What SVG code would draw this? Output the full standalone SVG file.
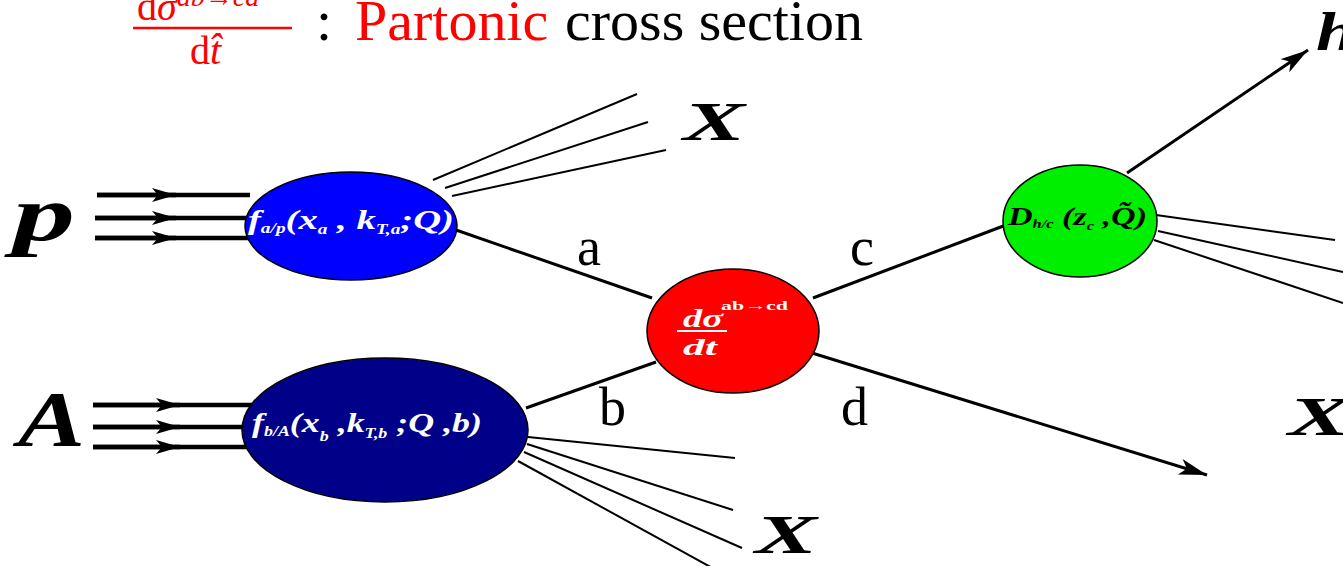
<svg xmlns="http://www.w3.org/2000/svg" width="1343" height="566" viewBox="0 0 1343 566">
<style>
.serif{font-family:"Liberation Serif","DejaVu Serif",serif}
.big{font-family:"Liberation Serif",serif;font-weight:bold;font-style:italic;fill:#000}
.lbl{font-family:"Liberation Serif",serif;font-size:54px;fill:#000}
.wt{font-family:"Liberation Serif",serif;font-weight:bold;font-style:italic;fill:#fff}
.bt{font-family:"Liberation Serif",serif;font-weight:bold;font-style:italic;fill:#000}
.prop{stroke:#000;stroke-width:3;fill:none}
.jet{stroke:#000;stroke-width:2;fill:none}
.beam{stroke:#000;stroke-width:4.5;fill:none}
.node{stroke:#000;stroke-width:1.5}
</style>
<defs>
<marker id="mid" markerUnits="userSpaceOnUse" markerWidth="30" markerHeight="20" refX="26" refY="8" orient="auto">
<path d="M26,8 L2,1 L8,8 L2,15 Z" fill="#000"/>
</marker>
<marker id="tip" markerUnits="userSpaceOnUse" markerWidth="32" markerHeight="20" refX="28" refY="8" orient="auto">
<path d="M28,8 L0,0 L7,8 L0,16 Z" fill="#000"/>
</marker>
</defs>
<rect width="1343" height="566" fill="#fff"/>

<g id="title">
<text class="serif" x="137" y="20" font-size="40" fill="#f00">d<tspan font-style="italic">σ</tspan><tspan font-size="28" font-style="italic" dy="-14">ab→cd</tspan></text>
<line x1="133" y1="28" x2="292" y2="28" stroke="#f00" stroke-width="2.5"/>
<text class="serif" x="190" y="64" font-size="40" fill="#f00">d<tspan font-style="italic">t̂</tspan></text>
<text class="serif" x="316" y="40" font-size="58" fill="#000">:</text>
<text class="serif" x="355" y="40" font-size="58" fill="#f00">Partonic</text>
<text class="serif" x="565" y="40" font-size="58" fill="#000">cross section</text>
</g>

<g id="connectors">
<line class="beam" x1="97" y1="195" x2="250" y2="195"/>
<line class="beam" x1="95" y1="218" x2="247" y2="218"/>
<line class="beam" x1="95" y1="238" x2="250" y2="238"/>
<line class="beam" x1="97" y1="195" x2="176" y2="195" marker-end="url(#mid)"/>
<line class="beam" x1="95" y1="218" x2="176" y2="218" marker-end="url(#mid)"/>
<line class="beam" x1="95" y1="238" x2="176" y2="238" marker-end="url(#mid)"/>
<line class="beam" x1="93" y1="405" x2="254" y2="405"/>
<line class="beam" x1="93" y1="427" x2="244" y2="427"/>
<line class="beam" x1="93" y1="447" x2="250" y2="447"/>
<line class="beam" x1="93" y1="405" x2="180" y2="405" marker-end="url(#mid)"/>
<line class="beam" x1="93" y1="427" x2="180" y2="427" marker-end="url(#mid)"/>
<line class="beam" x1="93" y1="447" x2="180" y2="447" marker-end="url(#mid)"/>

<line class="jet" x1="433" y1="180" x2="637" y2="94"/>
<line class="jet" x1="445" y1="188" x2="648" y2="122"/>
<line class="jet" x1="452" y1="196" x2="666" y2="150"/>

<line class="jet" x1="528" y1="437" x2="735" y2="458"/>
<line class="jet" x1="527" y1="444" x2="733" y2="510"/>
<line class="jet" x1="524" y1="452" x2="742" y2="548"/>
<line class="jet" x1="518" y1="461" x2="716" y2="570"/>

<line class="jet" x1="1156" y1="215" x2="1335" y2="240"/>
<line class="jet" x1="1158" y1="231" x2="1343" y2="272"/>
<line class="jet" x1="1154" y1="240" x2="1343" y2="303"/>

<line class="prop" x1="456" y1="230" x2="652" y2="298"/>
<line class="prop" x1="526" y1="408" x2="656" y2="362"/>
<line class="prop" x1="813" y1="298" x2="1006" y2="225"/>
<line class="prop" x1="812" y1="353" x2="1207" y2="475" marker-end="url(#tip)"/>
<line class="prop" x1="1127" y1="173" x2="1308" y2="50" marker-end="url(#tip)"/>
</g>

<g id="node-p">
<ellipse class="node" cx="351" cy="226" rx="106" ry="54" fill="#0000ff"/>
<text class="wt" x="248" y="229" font-size="28" textLength="206" lengthAdjust="spacingAndGlyphs">f<tspan font-size="14" dy="4">a/p</tspan><tspan dy="-4">(x</tspan><tspan font-size="14" dy="5">a</tspan><tspan dy="-5"> , k</tspan><tspan font-size="14" dy="5">T,a</tspan><tspan dy="-5">;Q)</tspan></text>
</g>

<g id="node-A">
<ellipse class="node" cx="385" cy="430" rx="143" ry="72" fill="#000088"/>
<text class="wt" x="252" y="432" font-size="28" textLength="230" lengthAdjust="spacingAndGlyphs">f<tspan font-size="14" dy="4">b/A</tspan><tspan dy="-4">(x</tspan><tspan font-size="14" dy="9">b</tspan><tspan dy="-9"> ,k</tspan><tspan font-size="14" dy="6">T,b</tspan><tspan dy="-6"> ;Q ,b)</tspan></text>
</g>

<g id="node-sigma">
<ellipse class="node" cx="733" cy="331" rx="86" ry="62" fill="#ff0000"/>
<text class="wt" x="683" y="327" font-size="25" textLength="40" lengthAdjust="spacingAndGlyphs">dσ</text>
<line x1="677" y1="331" x2="727" y2="331" stroke="#fff" stroke-width="2"/>
<text class="wt" x="683" y="355" font-size="24" textLength="34" lengthAdjust="spacingAndGlyphs">dt</text>
<text class="wt" x="721" y="310" font-size="13" style="font-style:normal" textLength="67" lengthAdjust="spacingAndGlyphs">ab→cd</text>
</g>

<g id="node-D">
<ellipse class="node" cx="1080" cy="221" rx="77" ry="56" fill="#00ee00"/>
<text class="bt" x="1008" y="225" font-size="25" textLength="139" lengthAdjust="spacingAndGlyphs">D<tspan font-size="12" dy="3">h/c</tspan><tspan dy="-3"> (z</tspan><tspan font-size="12" dy="5">c</tspan><tspan dy="-5"> ,Q̃)</tspan></text>
</g>

<g id="labels">
<text class="big" x="13" y="240" font-size="78" textLength="62" lengthAdjust="spacingAndGlyphs">p</text>
<text class="big" x="18" y="445" font-size="78" textLength="67" lengthAdjust="spacingAndGlyphs">A</text>
<text class="big" x="683" y="140" font-size="54" textLength="62" lengthAdjust="spacingAndGlyphs">X</text>
<text class="big" x="755" y="553" font-size="54" textLength="62" lengthAdjust="spacingAndGlyphs">X</text>
<text class="big" x="1288" y="435" font-size="54" textLength="62" lengthAdjust="spacingAndGlyphs">X</text>
<text class="big" x="1316" y="50" font-size="54" textLength="40" lengthAdjust="spacingAndGlyphs">h</text>
<text class="lbl" x="577" y="265">a</text>
<text class="lbl" x="599" y="425">b</text>
<text class="lbl" x="850" y="265">c</text>
<text class="lbl" x="841" y="425">d</text>
</g>
</svg>
